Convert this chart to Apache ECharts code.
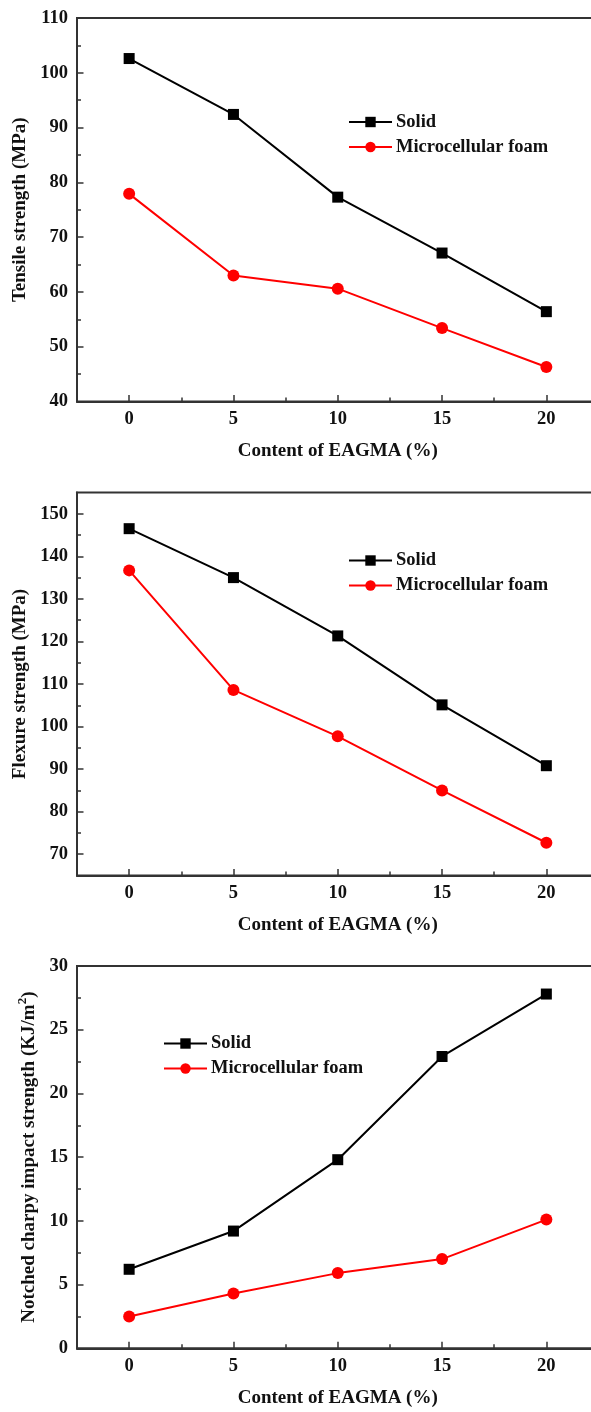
<!DOCTYPE html>
<html>
<head>
<meta charset="utf-8">
<script src="https://cdn.jsdelivr.net/npm/echarts@6/dist/echarts.min.js"></script>
<style>
  html, body { margin: 0; padding: 0; background: #ffffff; }
  #chart { width: 591px; height: 1412px; }
</style>
</head>
<body>
<div id="chart"></div>
<script>
// EAGMA content (%) on the x axis
const contents = [0, 5, 10, 15, 20];
const xTicks = [0, 5, 10, 15, 20];
const xMinorTicks = [2.5, 7.5, 12.5, 17.5];

// Tensile strength (MPa)
const tensileSolid = [102.6, 92.4, 77.3, 67.1, 56.4];
const tensileFoam = [77.9, 63.0, 60.6, 53.4, 46.3];
const tensileTicks = [40, 50, 60, 70, 80, 90, 100, 110];
const tensileMinorTicks = [45, 55, 65, 75, 85, 95, 105];

// Flexure strength (MPa)
const flexSolid = [146.5, 135.0, 121.3, 105.1, 90.8];
const flexFoam = [136.7, 108.6, 97.7, 85.0, 72.7];
const flexTicks = [70, 80, 90, 100, 110, 120, 130, 140, 150];
const flexMinorTicks = [75, 85, 95, 105, 115, 125, 135, 145];

// Notched charpy impact strength (KJ/m2)
const impactSolid = [6.2, 9.2, 14.8, 22.9, 27.8];
const impactFoam = [2.5, 4.3, 5.9, 7.0, 10.1];
const impactTicks = [0, 5, 10, 15, 20, 25, 30];
const impactMinorTicks = [2.5, 7.5, 12.5, 17.5, 22.5, 27.5];

const seriesNames = ['Solid', 'Microcellular foam'];

const FONT = '"Liberation Serif", "Times New Roman", serif';
const AXIS_COLOR = '#333333';
const RED = '#ff0000';

const pairs = (ys) => contents.map((x, i) => [x, ys[i]]);

const panels = [
  { top: 18, height: 383.5, min: 40, max: 110, ticks: tensileTicks, minor: tensileMinorTicks,
    title: 'Tensile strength (MPa)', gap: 40, solid: tensileSolid, foam: tensileFoam,
    legendLeft: 343, legendTop: 107.5 },
  { top: 492.5, height: 383, min: 65, max: 155, ticks: flexTicks, minor: flexMinorTicks,
    title: 'Flexure strength (MPa)', gap: 40, solid: flexSolid, foam: flexFoam,
    legendLeft: 343, legendTop: 546 },
  { top: 966, height: 382.3, min: 0, max: 30, ticks: impactTicks, minor: impactMinorTicks,
    title: 'Notched charpy impact strength (KJ/m{sup|2})', gap: 35, solid: impactSolid, foam: impactFoam,
    legendLeft: 158, legendTop: 1029 }
];

const grid = [], xAxis = [], yAxis = [], series = [], legend = [];

panels.forEach((p, k) => {
  // the plot frame runs slightly past the right edge of the page
  grid.push({
    left: 77, top: p.top, width: 521.5, height: p.height,
    outerBoundsMode: 'none', containLabel: false,
    show: true, borderColor: AXIS_COLOR, borderWidth: 2, backgroundColor: 'transparent'
  });

  const xBase = k * 2;
  // main x axis: labels and major ticks
  xAxis.push({
    type: 'value', gridIndex: k, position: 'bottom', min: -2.5, max: 22.5,
    axisLine: { show: true, onZero: false, lineStyle: { color: AXIS_COLOR, width: 2 } },
    axisTick: { show: true, inside: true, length: 6.5, customValues: xTicks,
                lineStyle: { color: AXIS_COLOR, width: 1.5 } },
    axisLabel: { show: true, customValues: xTicks, margin: 8,
                 fontFamily: FONT, fontWeight: 'bold', fontSize: 18.5, color: '#111' },
    splitLine: { show: false },
    name: 'Content of EAGMA (%)', nameLocation: 'middle', nameGap: 40,
    nameTextStyle: { fontFamily: FONT, fontWeight: 'bold', fontSize: 19, color: '#111' }
  });
  // minor x ticks
  xAxis.push({
    type: 'value', gridIndex: k, position: 'bottom', min: -2.5, max: 22.5,
    axisLine: { show: false, onZero: false },
    axisTick: { show: true, inside: true, length: 4, customValues: xMinorTicks,
                lineStyle: { color: AXIS_COLOR, width: 1.5 } },
    axisLabel: { show: false },
    splitLine: { show: false }
  });

  const yBase = k * 2;
  yAxis.push({
    type: 'value', gridIndex: k, position: 'left', min: p.min, max: p.max,
    axisLine: { show: true, onZero: false, lineStyle: { color: AXIS_COLOR, width: 2 } },
    axisTick: { show: true, inside: true, length: 6.5, customValues: p.ticks,
                lineStyle: { color: AXIS_COLOR, width: 1.5 } },
    axisLabel: { show: true, customValues: p.ticks, margin: 9,
                 fontFamily: FONT, fontWeight: 'bold', fontSize: 18.5, color: '#111' },
    splitLine: { show: false },
    name: p.title, nameLocation: 'middle', nameGap: p.gap, nameRotate: 90,
    nameTextStyle: {
      fontFamily: FONT, fontWeight: 'bold', fontSize: 19, color: '#111',
      rich: {
        sup: { fontFamily: FONT, fontWeight: 'bold', fontSize: 13, color: '#111',
               padding: [0, 0, 12, 0] }
      }
    }
  });
  // minor y ticks
  yAxis.push({
    type: 'value', gridIndex: k, position: 'left', min: p.min, max: p.max,
    axisLine: { show: false, onZero: false },
    axisTick: { show: true, inside: true, length: 4, customValues: p.minor,
                lineStyle: { color: AXIS_COLOR, width: 1.5 } },
    axisLabel: { show: false },
    splitLine: { show: false }
  });

  series.push({
    name: seriesNames[0], type: 'line', xAxisIndex: xBase, yAxisIndex: yBase,
    data: pairs(p.solid), symbol: 'rect', symbolSize: 11,
    lineStyle: { color: '#000', width: 2 }, itemStyle: { color: '#000' },
    emphasis: { disabled: true }, z: 3
  });
  series.push({
    name: seriesNames[1], type: 'line', xAxisIndex: xBase, yAxisIndex: yBase,
    data: pairs(p.foam), symbol: 'circle', symbolSize: 12,
    lineStyle: { color: RED, width: 2 }, itemStyle: { color: RED },
    emphasis: { disabled: true }, z: 3
  });

  legend.push({
    orient: 'vertical', left: p.legendLeft, top: p.legendTop,
    itemWidth: 43, itemHeight: 13, itemGap: 6,
    data: seriesNames,
    selectedMode: false,
    textStyle: { fontFamily: FONT, fontWeight: 'bold', fontSize: 18.5, color: '#111', padding: [0, 0, 0, -1] }
  });
});

const chart = echarts.init(document.getElementById('chart'), null, { renderer: 'canvas' });
chart.setOption({
  animation: false,
  backgroundColor: '#ffffff',
  grid, xAxis, yAxis, series, legend
});
</script>
</body>
</html>
